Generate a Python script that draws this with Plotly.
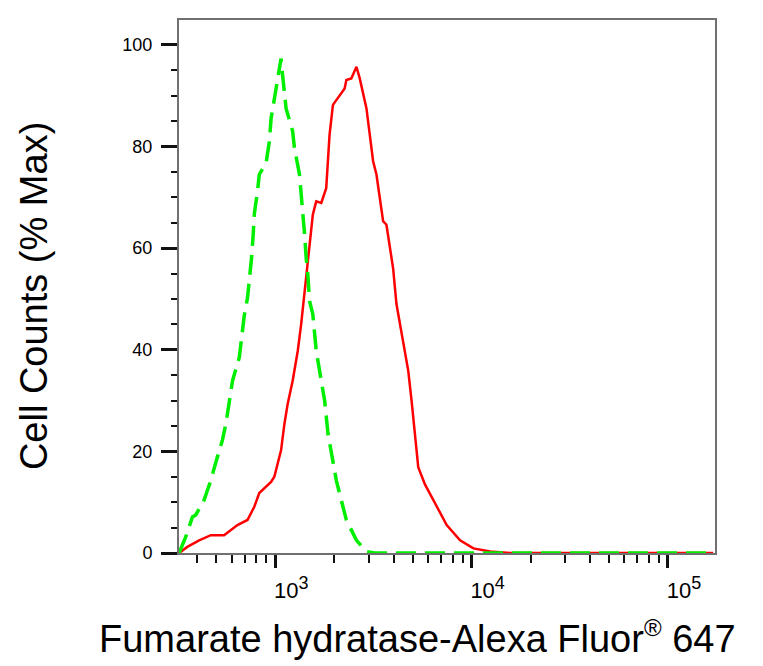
import plotly.graph_objects as go

# --- histogram data (intensity, % of max) ---
sample_x = [323, 356, 409, 469, 548, 641, 721, 781, 828, 951, 988, 1069, 1112,
            1156, 1225, 1301, 1353, 1407, 1463, 1552, 1615, 1713, 1816, 1888,
            1965, 2123, 2254, 2300, 2438, 2589, 2691, 2912, 3148, 3274, 3540,
            3681, 3981, 4140, 4477, 4753, 4943, 5140, 5346, 5784, 6379, 7464,
            8733, 10210, 12440, 15740, 40000, 100000, 170000]
sample_y = [0, 1.2, 2.5, 3.5, 3.5, 5.5, 6.5, 9.1, 11.8, 14, 15, 20.2, 25.4,
            29.4, 33.9, 39.8, 45, 50.9, 58.1, 66.6, 69.2, 68.9, 71.8, 82.3,
            88.2, 90.1, 91.4, 93.1, 93.4, 95.7, 93.4, 87.5, 77.1, 74.5, 65.3,
            64.6, 56, 49, 41.1, 35.9, 30, 23.5, 16.9, 13.5, 10.5, 5.5,
            2.5, 0.9, 0.3, 0, 0, 0, 0]

control_x = [323, 349, 378, 393, 433, 469, 498, 537, 560, 582, 605, 655, 668,
             694, 721, 745, 756, 771, 781, 811, 828, 896, 932, 951, 988, 1069,
             1089, 1134, 1225, 1251, 1327, 1353, 1380, 1407, 1436, 1463, 1493,
             1552, 1615, 1713, 1782, 1854, 1965, 2044, 2167, 2300, 2589, 2912,
             3200, 10000, 50000, 170000]
control_y = [0, 3.1, 7.1, 7.5, 10.4, 14.3, 17.9, 22.2, 25.5, 30, 33.9, 38.5, 41.8,
             46.7, 50.2, 54.9, 58, 62.7, 66.7, 71.2, 74.5, 76.7, 81, 85.5, 89.5, 97.3,
             94, 87.5, 83, 79.7, 74.5, 71.2, 66.7, 63, 58, 54.9, 49.6,
             47, 39.8, 33.3, 30, 23.5, 18.2, 14.3, 10.4, 6.5, 2.5, 0.3,
             0, 0, 0, 0]

x_tickvals = [1000, 10000, 100000]
x_exponents = ["3", "4", "5"]
x_ticktext = ["10<sup><span style='font-size:18px'>%s</span></sup>" % e
              for e in x_exponents]
x_minor = [m * 10 ** e for e in (2, 3, 4) for m in range(2, 10)] + [200000]
y_tickvals = [0, 20, 40, 60, 80, 100]

FONT = "Liberation Sans, Arial, sans-serif"

fig = go.Figure()

fig.add_trace(go.Scatter(
    x=sample_x, y=sample_y, mode="lines",
    line=dict(color="#ff0000", width=2.5),
    showlegend=False,
))
fig.add_trace(go.Scatter(
    x=control_x, y=control_y, mode="lines",
    line=dict(color="#00ee00", width=3.5, dash="20px,9px"),
    showlegend=False,
))

fig.update_xaxes(
    type="log", range=[2.509, 5.24],
    showgrid=False, zeroline=False,
    showline=True, linecolor="#707070", linewidth=2, mirror=True,
    tickmode="array", tickvals=x_tickvals, ticktext=x_ticktext,
    ticks="outside", ticklen=13, tickwidth=3, tickcolor="#111111",
    ticklabelshift=16, ticklabelstandoff=4,
    tickfont=dict(family=FONT, size=22, color="black"),
    minor=dict(tickmode="array", tickvals=x_minor, ticks="outside",
               ticklen=8, tickwidth=2, tickcolor="#111111", showgrid=False),
)
fig.update_yaxes(
    range=[0, 104.9],
    showgrid=False, zeroline=False,
    showline=True, linecolor="#707070", linewidth=2, mirror=True,
    tickmode="array", tickvals=y_tickvals,
    ticks="outside", ticklen=16, tickwidth=3, tickcolor="#111111",
    ticklabelstandoff=5,
    tickfont=dict(family=FONT, size=18, color="black"),
    minor=dict(dtick=5, ticks="outside", ticklen=6, tickwidth=2,
               tickcolor="#111111", showgrid=False),
)

# axis titles as annotations so they can sit where the original has them
fig.add_annotation(
    text="Fumarate hydratase-Alexa Fluor<sup><span style='font-size:24px'>®</span></sup> 647",
    xref="paper", yref="paper", x=0.445, y=-0.157,
    xanchor="center", yanchor="middle", showarrow=False,
    font=dict(family=FONT, size=38, color="black"),
)
fig.add_annotation(
    text="Cell Counts (% Max)",
    xref="paper", yref="paper", x=-0.2705, y=0.482,
    xanchor="center", yanchor="middle", textangle=-90, showarrow=False,
    font=dict(family=FONT, size=38, color="black"),
)

# page body adds an 8px offset, so the margins are trimmed by that much
fig.update_layout(
    width=763, height=666,
    margin=dict(l=171, r=56, t=10, b=121),
    plot_bgcolor="white", paper_bgcolor="white",
)

fig.write_html("out.html")
